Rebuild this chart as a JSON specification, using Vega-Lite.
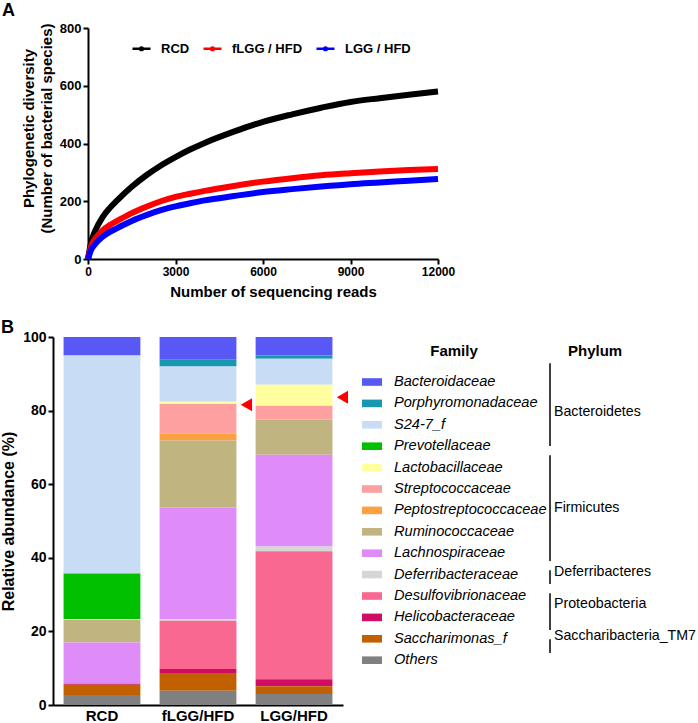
{
  "$schema": "https://vega.github.io/schema/vega-lite/v6.json",
  "background": "white",
  "padding": {"left": 0, "top": 2, "right": 0, "bottom": 0},
  "spacing": 20,
  "config": {
    "font": "Liberation Sans",
    "view": {"stroke": null},
    "axis": {
      "grid": false,
      "domainColor": "#000000",
      "domainWidth": 2,
      "tickColor": "#000000",
      "tickWidth": 2,
      "tickSize": 5,
      "labelColor": "#000000",
      "labelFont": "Liberation Sans",
      "labelFontWeight": "bold",
      "labelFontSize": 13,
      "titleColor": "#000000",
      "titleFont": "Liberation Sans",
      "titleFontWeight": "bold",
      "titleFontSize": 15
    },
    "legend": {"labelFont": "Liberation Sans", "titleFont": "Liberation Sans", "labelColor": "#000000", "titleColor": "#000000"},
    "title": {"font": "Liberation Sans", "color": "#000000"}
  },
  "resolve": {"scale": {"color": "independent"}, "legend": {"color": "independent"}},
  "datasets": {
    "curves": [
      {"group": "RCD", "reads": 0, "diversity": 0},
      {"group": "RCD", "reads": 100, "diversity": 55},
      {"group": "RCD", "reads": 250, "diversity": 98},
      {"group": "RCD", "reads": 500, "diversity": 145},
      {"group": "RCD", "reads": 750, "diversity": 177},
      {"group": "RCD", "reads": 1000, "diversity": 203},
      {"group": "RCD", "reads": 1500, "diversity": 250},
      {"group": "RCD", "reads": 2000, "diversity": 290},
      {"group": "RCD", "reads": 2500, "diversity": 324},
      {"group": "RCD", "reads": 3000, "diversity": 353},
      {"group": "RCD", "reads": 3500, "diversity": 379},
      {"group": "RCD", "reads": 4000, "diversity": 402},
      {"group": "RCD", "reads": 5000, "diversity": 441},
      {"group": "RCD", "reads": 6000, "diversity": 475},
      {"group": "RCD", "reads": 7000, "diversity": 501},
      {"group": "RCD", "reads": 8000, "diversity": 524},
      {"group": "RCD", "reads": 9000, "diversity": 544},
      {"group": "RCD", "reads": 10000, "diversity": 557},
      {"group": "RCD", "reads": 11000, "diversity": 569},
      {"group": "RCD", "reads": 12000, "diversity": 580},
      {"group": "fLGG / HFD", "reads": 0, "diversity": 0},
      {"group": "fLGG / HFD", "reads": 100, "diversity": 42},
      {"group": "fLGG / HFD", "reads": 250, "diversity": 70},
      {"group": "fLGG / HFD", "reads": 500, "diversity": 99},
      {"group": "fLGG / HFD", "reads": 750, "diversity": 118},
      {"group": "fLGG / HFD", "reads": 1000, "diversity": 132},
      {"group": "fLGG / HFD", "reads": 1500, "diversity": 159},
      {"group": "fLGG / HFD", "reads": 2000, "diversity": 181},
      {"group": "fLGG / HFD", "reads": 2500, "diversity": 200},
      {"group": "fLGG / HFD", "reads": 3000, "diversity": 215},
      {"group": "fLGG / HFD", "reads": 3500, "diversity": 226},
      {"group": "fLGG / HFD", "reads": 4000, "diversity": 236},
      {"group": "fLGG / HFD", "reads": 5000, "diversity": 253},
      {"group": "fLGG / HFD", "reads": 6000, "diversity": 268},
      {"group": "fLGG / HFD", "reads": 7000, "diversity": 280},
      {"group": "fLGG / HFD", "reads": 8000, "diversity": 290},
      {"group": "fLGG / HFD", "reads": 9000, "diversity": 297},
      {"group": "fLGG / HFD", "reads": 10000, "diversity": 303},
      {"group": "fLGG / HFD", "reads": 11000, "diversity": 308},
      {"group": "fLGG / HFD", "reads": 12000, "diversity": 312},
      {"group": "LGG / HFD", "reads": 0, "diversity": 0},
      {"group": "LGG / HFD", "reads": 100, "diversity": 30},
      {"group": "LGG / HFD", "reads": 250, "diversity": 52},
      {"group": "LGG / HFD", "reads": 500, "diversity": 77},
      {"group": "LGG / HFD", "reads": 750, "diversity": 94},
      {"group": "LGG / HFD", "reads": 1000, "diversity": 107},
      {"group": "LGG / HFD", "reads": 1500, "diversity": 132},
      {"group": "LGG / HFD", "reads": 2000, "diversity": 152},
      {"group": "LGG / HFD", "reads": 2500, "diversity": 169},
      {"group": "LGG / HFD", "reads": 3000, "diversity": 182},
      {"group": "LGG / HFD", "reads": 3500, "diversity": 193},
      {"group": "LGG / HFD", "reads": 4000, "diversity": 203},
      {"group": "LGG / HFD", "reads": 5000, "diversity": 218},
      {"group": "LGG / HFD", "reads": 6000, "diversity": 232},
      {"group": "LGG / HFD", "reads": 7000, "diversity": 242},
      {"group": "LGG / HFD", "reads": 8000, "diversity": 251},
      {"group": "LGG / HFD", "reads": 9000, "diversity": 259},
      {"group": "LGG / HFD", "reads": 10000, "diversity": 265},
      {"group": "LGG / HFD", "reads": 11000, "diversity": 271},
      {"group": "LGG / HFD", "reads": 12000, "diversity": 277}
    ],
    "families": [
      {"family": "Bacteroidaceae", "phylum": "Bacteroidetes", "rank": 1},
      {"family": "Porphyromonadaceae", "phylum": "Bacteroidetes", "rank": 2},
      {"family": "S24-7_f", "phylum": "Bacteroidetes", "rank": 3},
      {"family": "Prevotellaceae", "phylum": "Bacteroidetes", "rank": 4},
      {"family": "Lactobacillaceae", "phylum": "Firmicutes", "rank": 5},
      {"family": "Streptococcaceae", "phylum": "Firmicutes", "rank": 6},
      {"family": "Peptostreptococcaceae", "phylum": "Firmicutes", "rank": 7},
      {"family": "Ruminococcaceae", "phylum": "Firmicutes", "rank": 8},
      {"family": "Lachnospiraceae", "phylum": "Firmicutes", "rank": 9},
      {"family": "Deferribacteraceae", "phylum": "Deferribacteres", "rank": 10},
      {"family": "Desulfovibrionaceae", "phylum": "Proteobacteria", "rank": 11},
      {"family": "Helicobacteraceae", "phylum": "Proteobacteria", "rank": 12},
      {"family": "Saccharimonas_f", "phylum": "Saccharibacteria_TM7", "rank": 13},
      {"family": "Others", "phylum": null, "rank": 14}
    ],
    "phyla": [
      {"phylum": "Bacteroidetes", "first": "Bacteroidaceae", "last": "Prevotellaceae"},
      {"phylum": "Firmicutes", "first": "Lactobacillaceae", "last": "Lachnospiraceae"},
      {"phylum": "Deferribacteres", "first": "Deferribacteraceae", "last": "Deferribacteraceae"},
      {"phylum": "Proteobacteria", "first": "Desulfovibrionaceae", "last": "Helicobacteraceae"},
      {"phylum": "Saccharibacteria_TM7", "first": "Saccharimonas_f", "last": "Saccharimonas_f"}
    ],
    "abundance": [
      {"group": "RCD", "family": "Bacteroidaceae", "value": 5.0},
      {"group": "RCD", "family": "S24-7_f", "value": 59.3},
      {"group": "RCD", "family": "Prevotellaceae", "value": 12.4},
      {"group": "RCD", "family": "Lactobacillaceae", "value": 0.2},
      {"group": "RCD", "family": "Ruminococcaceae", "value": 6.1},
      {"group": "RCD", "family": "Lachnospiraceae", "value": 11.2},
      {"group": "RCD", "family": "Helicobacteraceae", "value": 0.3},
      {"group": "RCD", "family": "Saccharimonas_f", "value": 2.8},
      {"group": "RCD", "family": "Others", "value": 2.7},
      {"group": "fLGG/HFD", "family": "Bacteroidaceae", "value": 6.2},
      {"group": "fLGG/HFD", "family": "Porphyromonadaceae", "value": 1.8},
      {"group": "fLGG/HFD", "family": "S24-7_f", "value": 9.6},
      {"group": "fLGG/HFD", "family": "Lactobacillaceae", "value": 0.6},
      {"group": "fLGG/HFD", "family": "Streptococcaceae", "value": 8.1},
      {"group": "fLGG/HFD", "family": "Peptostreptococcaceae", "value": 1.8},
      {"group": "fLGG/HFD", "family": "Ruminococcaceae", "value": 18.2},
      {"group": "fLGG/HFD", "family": "Lachnospiraceae", "value": 30.4},
      {"group": "fLGG/HFD", "family": "Deferribacteraceae", "value": 0.4},
      {"group": "fLGG/HFD", "family": "Desulfovibrionaceae", "value": 13.1},
      {"group": "fLGG/HFD", "family": "Helicobacteraceae", "value": 1.1},
      {"group": "fLGG/HFD", "family": "Saccharimonas_f", "value": 4.8},
      {"group": "fLGG/HFD", "family": "Others", "value": 3.9},
      {"group": "LGG/HFD", "family": "Bacteroidaceae", "value": 5.0},
      {"group": "LGG/HFD", "family": "Porphyromonadaceae", "value": 0.9},
      {"group": "LGG/HFD", "family": "S24-7_f", "value": 7.1},
      {"group": "LGG/HFD", "family": "Lactobacillaceae", "value": 5.7},
      {"group": "LGG/HFD", "family": "Streptococcaceae", "value": 3.7},
      {"group": "LGG/HFD", "family": "Ruminococcaceae", "value": 9.6},
      {"group": "LGG/HFD", "family": "Lachnospiraceae", "value": 24.9},
      {"group": "LGG/HFD", "family": "Deferribacteraceae", "value": 1.3},
      {"group": "LGG/HFD", "family": "Desulfovibrionaceae", "value": 34.8},
      {"group": "LGG/HFD", "family": "Helicobacteraceae", "value": 1.9},
      {"group": "LGG/HFD", "family": "Saccharimonas_f", "value": 2.1},
      {"group": "LGG/HFD", "family": "Others", "value": 3.0}
    ],
    "arrows": [
      {"group": "fLGG/HFD", "value": 81.6},
      {"group": "LGG/HFD", "value": 83.6}
    ]
  },
  "vconcat": [
    {
      "title": {"text": "A", "anchor": "start", "frame": "group", "dx": -51, "fontSize": 18, "fontWeight": "bold", "offset": 2},
      "width": 385,
      "height": 231,
      "data": {"name": "curves"},
      "mark": {"type": "line", "strokeWidth": 6, "interpolate": "monotone"},
      "encoding": {
        "x": {
          "field": "reads", "type": "quantitative",
          "scale": {"domain": [0, 12000], "nice": false, "range": [35, 385]},
          "axis": {"values": [0, 3000, 6000, 9000, 12000], "format": "d", "title": "Number of sequencing reads", "titleX": 220, "labelFontSize": 12, "labelPadding": 2, "titlePadding": 7, "labelFlush": false}
        },
        "y": {
          "field": "diversity", "type": "quantitative",
          "scale": {"domain": [0, 800], "nice": false},
          "axis": {"values": [0, 200, 400, 600, 800], "offset": -35, "title": ["Phylogenetic diversity", "(Number of bacterial species)"], "titleY": 100, "titleLineHeight": 18, "titlePadding": 5, "labelPadding": 2}
        },
        "color": {
          "field": "group", "type": "nominal",
          "scale": {"domain": ["RCD", "fLGG / HFD", "LGG / HFD"], "range": ["#000000", "#ff0000", "#0000ff"]},
          "legend": {
            "title": null, "orient": "none", "legendX": 78, "legendY": 10, "direction": "horizontal",
            "labelFontSize": 13, "labelFontWeight": "bold", "labelOffset": 9, "columnPadding": 8, "padding": 0,
            "symbolType": "M-1,0H1M-0.15,0A0.15,0.15,0,1,1,0.15,0A0.15,0.15,0,1,1,-0.15,0",
            "symbolSize": 324, "symbolStrokeWidth": 2.5
          }
        }
      }
    },
    {
      "bounds": "flush",
      "spacing": 206,
      "resolve": {"legend": {"color": "independent"}, "scale": {"color": "independent"}},
      "hconcat": [
        {
          "title": {"text": "B", "anchor": "start", "frame": "group", "dx": -52, "fontSize": 18, "fontWeight": "bold", "offset": -7},
          "width": 290,
          "height": 368,
          "layer": [
            {
              "data": {"name": "abundance"},
              "transform": [{"lookup": "family", "from": {"data": {"name": "families"}, "key": "family", "fields": ["rank"]}}],
              "mark": {"type": "bar"},
              "encoding": {
                "x": {
                  "field": "group", "type": "nominal",
                  "scale": {"domain": ["RCD", "fLGG/HFD", "LGG/HFD"], "paddingInner": 0.2, "paddingOuter": 0.11},
                  "axis": {"title": null, "ticks": false, "labelPadding": 3, "labelFontSize": 15, "labelAngle": 0}
                },
                "y": {
                  "field": "value", "type": "quantitative", "stack": "zero",
                  "scale": {"domain": [0, 100], "nice": false},
                  "axis": {"values": [0, 20, 40, 60, 80, 100], "title": "Relative abundance (%)", "titleFontSize": 16, "labelFontSize": 14, "labelPadding": 2, "titlePadding": 6}
                },
                "color": {
                  "field": "family", "type": "nominal",
                  "scale": {
                    "domain": ["Bacteroidaceae", "Porphyromonadaceae", "S24-7_f", "Prevotellaceae", "Lactobacillaceae", "Streptococcaceae", "Peptostreptococcaceae", "Ruminococcaceae", "Lachnospiraceae", "Deferribacteraceae", "Desulfovibrionaceae", "Helicobacteraceae", "Saccharimonas_f", "Others"],
                    "range": ["#5858f5", "#1898b0", "#c8dcf6", "#00c000", "#ffffa0", "#ffa0a0", "#ffa040", "#c0b480", "#e08cf8", "#d6d6d6", "#f86890", "#d00c64", "#c06000", "#808080"]
                  },
                  "legend": {
                    "title": "Family", "orient": "right", "offset": 12, "padding": 7,
                    "titleFontSize": 15, "titleFontWeight": "bold", "titleAnchor": "middle", "titlePadding": 13,
                    "labelFontStyle": "italic", "labelFontSize": 14.6, "labelFontWeight": "normal", "labelOffset": 12, "labelLimit": 300,
                    "symbolType": "M-1,-0.38H1V0.38H-1Z", "symbolSize": 400, "symbolStrokeWidth": 0, "symbolOpacity": 1,
                    "rowPadding": 4.4
                  }
                },
                "order": {"field": "rank", "sort": "descending"}
              }
            },
            {
              "data": {"name": "arrows"},
              "mark": {"type": "point", "shape": "triangle-left", "filled": true, "color": "#ff0000", "size": 170, "opacity": 1},
              "encoding": {
                "x": {"field": "group", "type": "nominal", "bandPosition": 1.13},
                "y": {"field": "value", "type": "quantitative"}
              }
            }
          ]
        },
        {
          "title": {"text": "Phylum", "anchor": "start", "frame": "group", "dx": 19, "fontSize": 15, "fontWeight": "bold", "offset": -22},
          "width": 2,
          "height": 368,
          "layer": [
            {
              "data": {"name": "phyla"},
              "mark": {"type": "rule", "color": "#000000", "strokeWidth": 1.5},
              "encoding": {
                "y": {
                  "field": "first", "type": "nominal", "bandPosition": 0.2,
                  "scale": {"type": "band", "domain": ["Bacteroidaceae", "Porphyromonadaceae", "S24-7_f", "Prevotellaceae", "Lactobacillaceae", "Streptococcaceae", "Peptostreptococcaceae", "Ruminococcaceae", "Lachnospiraceae", "Deferribacteraceae", "Desulfovibrionaceae", "Helicobacteraceae", "Saccharimonas_f", "Others"], "paddingInner": 0, "paddingOuter": 1.64, "align": 0.47},
                  "axis": null
                },
                "y2": {"field": "last", "bandPosition": 0.8}
              }
            },
            {
              "data": {"name": "families"},
              "transform": [
                {"filter": "datum.phylum !== null"},
                {"aggregate": [{"op": "mean", "field": "rank", "as": "mid"}], "groupby": ["phylum"]}
              ],
              "mark": {"type": "text", "align": "left", "baseline": "middle", "dx": 4, "fontSize": 14.2, "color": "#000000"},
              "encoding": {
                "y": {"field": "mid", "type": "quantitative", "scale": {"domain": [-1.035, 16.24], "reverse": true, "nice": false, "zero": false}, "axis": null},
                "text": {"field": "phylum", "type": "nominal"}
              }
            }
          ],
          "resolve": {"scale": {"y": "independent"}}
        }
      ]
    }
  ]
}
